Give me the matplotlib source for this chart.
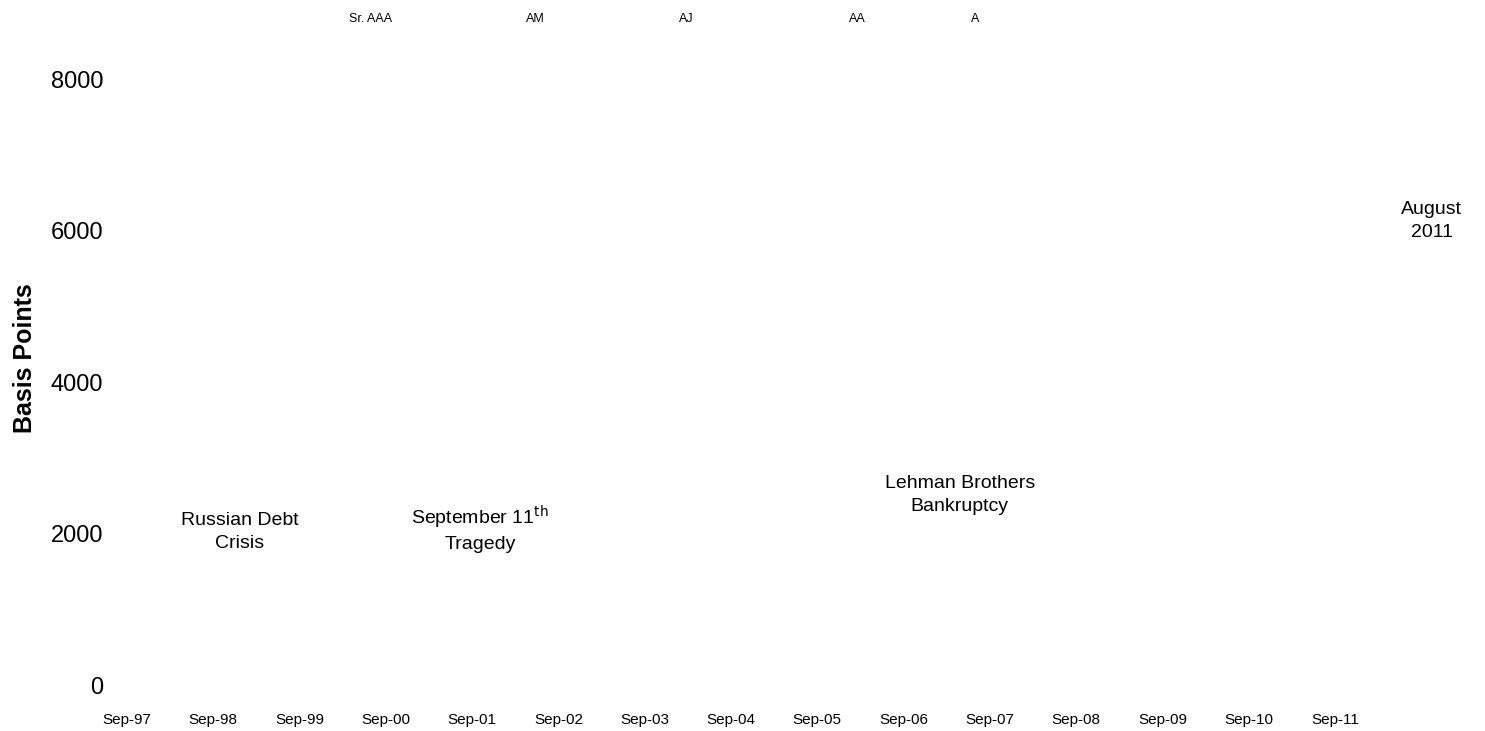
import matplotlib
matplotlib.use("Agg")
import matplotlib.pyplot as plt
from matplotlib import font_manager

# ========= DATA ============
x_labels = ["Sep-97", "Sep-98", "Sep-99", "Sep-00", "Sep-01", "Sep-02", "Sep-03", "Sep-04",
            "Sep-05", "Sep-06", "Sep-07", "Sep-08", "Sep-09", "Sep-10", "Sep-11"]
y_ticks = [0, 2000, 4000, 6000, 8000]

# tranche names shown across the top (legend entries, no visible lines)
tranches = ["Sr. AAA", "AM", "AJ", "AA", "A"]
tranche_x = [371, 535, 686, 857, 975]   # pixel centres along the top

# event annotations (x in years since Sep-97, y in basis points)
events = ["Russian Debt\nCrisis", "September 11$^{\\mathrm{th}}$\nTragedy",
          "Lehman Brothers\nBankruptcy", "August\n2011"]
event_x = [1.31, 4.09, 9.65, 15.12]
event_y = [2020, 2065, 2510, 6125]
# ===========================

plt.rcParams['mathtext.default'] = 'regular'
plt.rcParams['font.family'] = ['Liberation Sans', 'DejaVu Sans']

names = {f.name for f in font_manager.fontManager.ttflist}
if 'Liberation Sans Narrow' in names:
    narrow, tick_fs, top_fs = 'Liberation Sans Narrow', 13, 10.5
else:
    narrow, tick_fs, top_fs = 'Liberation Sans', 11, 9

W, H = 1485, 731
fig = plt.figure(figsize=(W / 100, H / 100), dpi=100)
ax = fig.add_axes([110 / W, (H - 685) / H, (1480 - 110) / W, 685 / H])

ax.set_xlim(-0.197, 15.68)
ax.set_ylim(0, 9043)
for s in ax.spines.values():
    s.set_visible(False)

ax.set_xticks(range(len(x_labels)))
ax.set_xticklabels(x_labels, fontfamily=narrow, fontsize=tick_fs)
ax.set_yticks(y_ticks)
ax.set_yticklabels([str(v) for v in y_ticks], fontsize=17)
ax.tick_params(axis='x', length=0, pad=20.5)
ax.tick_params(axis='y', length=0, pad=5)

ax.set_ylabel('Basis Points', fontsize=18, fontweight='bold')
ax.yaxis.set_label_coords((37 - 110) / (1480 - 110), (685 - 358) / 685)

for lab, xp in zip(tranches, tranche_x):
    fig.text(xp / W, 1 - 19 / H, lab, ha='center', va='center',
             fontfamily=narrow, fontsize=top_fs)

for txt, xv, yv in zip(events, event_x, event_y):
    ax.text(xv, yv, txt, ha='center', va='center', fontsize=14, linespacing=1.45)

fig.savefig('out.png', dpi=100)
